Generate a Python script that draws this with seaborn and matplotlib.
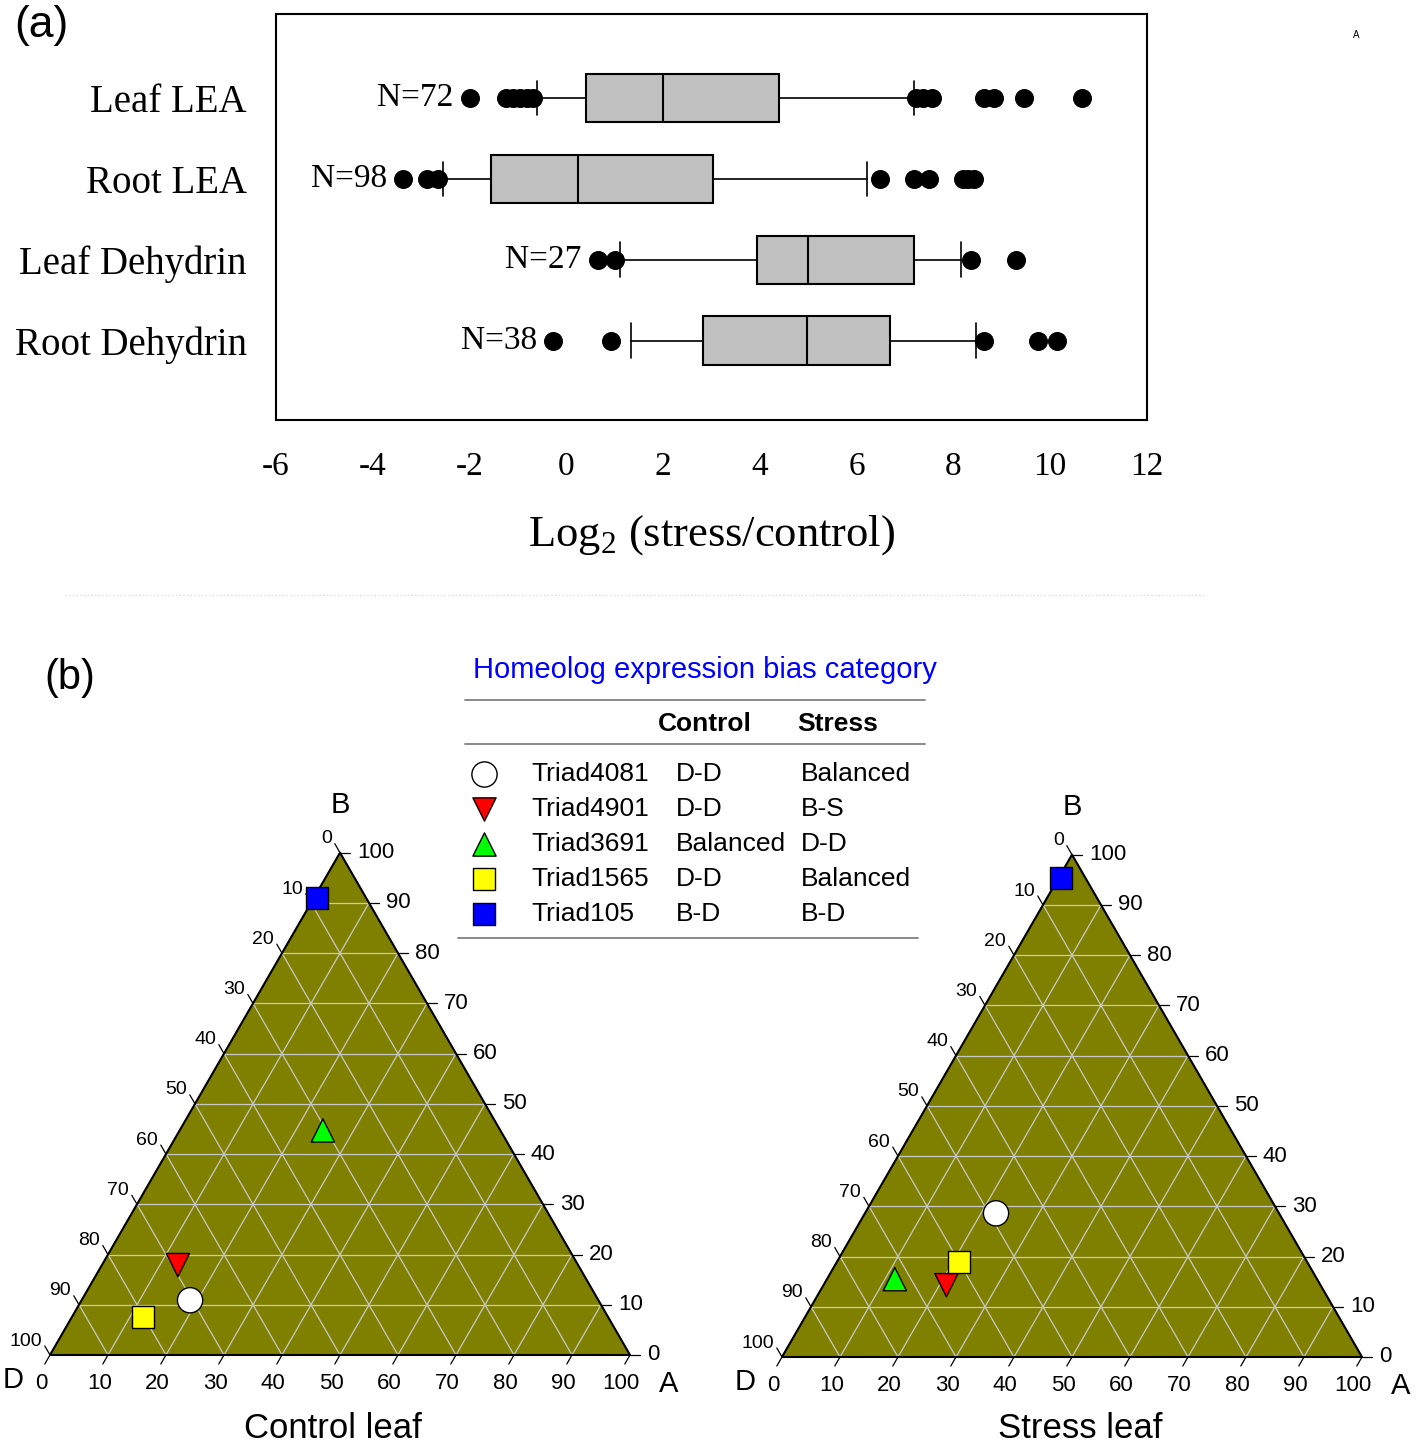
import numpy as np
import pandas as pd
import seaborn as sns
import matplotlib.pyplot as plt
from matplotlib.lines import Line2D

sns.set_style("white")
plt.rcParams['font.family'] = ['Liberation Sans', 'DejaVu Sans']
plt.rcParams['axes.unicode_minus'] = False
plt.rcParams['mathtext.fontset'] = 'custom'
plt.rcParams['mathtext.rm'] = 'Liberation Serif'
for key in ['text.color', 'axes.labelcolor', 'xtick.color', 'ytick.color']:
    plt.rcParams[key] = 'black'

# ---- panel (a) data: log2 (stress/control) box summaries
cats = ["Leaf LEA", "Root LEA", "Leaf Dehydrin", "Root Dehydrin"]
n_genes = [72, 98, 27, 38]
q1 = [0.40, -1.56, 3.94, 2.83]
med = [2.00, 0.24, 5.00, 4.98]
q3 = [4.39, 3.03, 7.18, 6.69]
whis_lo = [-0.60, -2.55, 1.10, 1.34]
whis_hi = [7.18, 6.21, 8.16, 8.46]
fliers = [
    [-2.0, -1.25, -1.1, -0.95, -0.82, -0.68, 7.22, 7.38, 7.55, 8.63, 8.83, 9.45, 10.65],
    [-3.38, -2.88, -2.66, 6.48, 7.18, 7.5, 8.2, 8.3, 8.42],
    [0.65, 1.0, 8.37, 9.29],
    [-0.27, 0.92, 8.63, 9.74, 10.14],
]

# ---- panel (b) data: homeolog expression (% A, % B; D = rest)
triads = ["Triad4081", "Triad4901", "Triad3691", "Triad1565", "Triad105"]
control_bias = ["D-D", "D-D", "Balanced", "D-D", "B-D"]
stress_bias = ["Balanced", "B-S", "D-D", "Balanced", "B-D"]
ctrl_A = [18.7, 13.1, 24.7, 12.3, 0.5]
ctrl_B = [10.9, 17.9, 44.7, 7.6, 91.0]
stress_A = [22.6, 21.2, 11.7, 21.0, 0.4]
stress_B = [28.6, 14.3, 15.5, 19.0, 95.4]

marker_map = dict(zip(triads, ["o", "v", "^", "s", "s"]))
color_map = dict(zip(triads, ["white", "#ff0000", "#00ff00", "#ffff00", "#0000ff"]))
size_map = dict(zip(triads, [330, 280, 280, 250, 250]))

W, H = 1418, 1446
fig = plt.figure(figsize=(W / 100, H / 100), dpi=100)


def rect(x0, y0, x1, y1):
    return [x0 / W, 1 - y1 / H, (x1 - x0) / W, (y1 - y0) / H]


serif = 'Liberation Serif'

# ================= (a) box plot =================
ax = fig.add_axes(rect(276, 14, 1147, 420))
stats = [dict(med=m, q1=a, q3=b, whislo=lo, whishi=hi, fliers=[])
         for m, a, b, lo, hi in zip(med, q1, q3, whis_lo, whis_hi)]
ax.bxp(stats, positions=range(len(cats)), widths=0.6, orientation='horizontal',
       patch_artist=True, showfliers=False, capwidths=0.43, manage_ticks=False,
       boxprops=dict(facecolor='#c0c0c0', edgecolor='black', linewidth=1.5),
       medianprops=dict(color='black', linewidth=1.5),
       whiskerprops=dict(color='black', linewidth=1.2),
       capprops=dict(color='black', linewidth=1.2))

fl = pd.DataFrame([(i, v) for i, vals in enumerate(fliers) for v in vals], columns=['pos', 'value'])
sns.scatterplot(data=fl, x='value', y='pos', color='black', edgecolor='black', s=160,
                zorder=3, ax=ax)
for i, vals in enumerate(fliers):
    ax.text(min(vals) - 0.33, i, f"N={n_genes[i]}", ha='right', va='center',
            fontsize=24, family=serif)

ax.set_xlim(-6, 12)
ax.set_ylim(3.98, -1.04)
ax.set_xticks(range(-6, 13, 2))
ax.set_xticklabels([str(t) for t in range(-6, 13, 2)], fontsize=24, family=serif)
ax.set_yticks(range(len(cats)))
ax.set_yticklabels(cats, fontsize=28, family=serif)
ax.tick_params(direction='out', length=9, width=1.2, color='black')
ax.tick_params(axis='x', pad=14)
ax.tick_params(axis='y', pad=12)
ax.set_xlabel(r'Log$_\mathrm{2}$ (stress/control)', fontsize=32, family=serif, labelpad=22)
ax.set_ylabel('')
for sp in ax.spines.values():
    sp.set_linewidth(1.5)
    sp.set_color('black')

fig.text(14 / W, 1 - 25 / H, "(a)", fontsize=32, ha='left', va='center')
fig.text(1356 / W, 1 - 35 / H, "A", fontsize=7, ha='center', va='center')
fig.add_artist(Line2D([65 / W, 1205 / W], [1 - 595 / H] * 2, color='#dcdcdc', ls=':', lw=1))
fig.text(44 / W, 1 - 678 / H, "(b)", fontsize=30, ha='left', va='center')

# ================= (b) ternary plots =================
h = np.sqrt(3) / 2
S = 5.8  # pixels per percent


def ternary(dx, dy, px0, px1, py0, py1, A, B):
    tax = fig.add_axes(rect(px0, py0, px1, py1))
    tax.set_xlim((px0 - dx) / S, (px1 - dx) / S)
    tax.set_ylim((dy - py1) / S, (dy - py0) / S)
    tax.axis('off')
    tax.patch.set_visible(False)
    tax.fill([0, 100, 50], [0, 0, 100 * h], color='#808000', zorder=0)
    for k in range(10, 100, 10):
        tax.plot([k / 2, 100 - k / 2], [k * h, k * h], color='#c8c8c8', lw=0.9, zorder=0.5)
        tax.plot([k, k + (100 - k) / 2], [0, (100 - k) * h], color='#c8c8c8', lw=0.9, zorder=0.5)
        tax.plot([100 - k, (100 - k) / 2], [0, (100 - k) * h], color='#c8c8c8', lw=0.9, zorder=0.5)
    tax.plot([0, 100, 50, 0], [0, 0, 100 * h, 0], color='black', lw=1.5, zorder=1)
    L = 1.8
    for k in range(0, 101, 10):
        # bottom: A
        tax.plot([k, k - 0.5 * L], [0, -h * L], color='black', lw=0.9)
        tax.text(k - 1.5, -4.9, str(k), fontsize=16, ha='center', va='center')
        # right: B
        bx, by = 100 - k / 2, k * h
        tax.plot([bx, bx + L], [by, by], color='black', lw=0.9)
        tax.text(bx + 2.9, by, str(k), fontsize=16, ha='left', va='center')
        # left: D
        lx, ly = (100 - k) / 2, (100 - k) * h
        tax.plot([lx, lx - 0.5 * L], [ly, ly + h * L], color='black', lw=0.9)
        tax.text(lx - 1.4, ly + 2.4, str(k), fontsize=14, ha='right', va='center')
    tax.text(50, 100 * h + 8.3, "B", fontsize=21, ha='center', va='center')
    tax.text(-6.3, -4.3, "D", fontsize=21, ha='center', va='center')
    tax.text(106.7, -5.0, "A", fontsize=21, ha='center', va='center')
    df = pd.DataFrame({'triad': triads,
                       'x': np.array(A) + np.array(B) / 2,
                       'y': np.array(B) * h})
    sns.scatterplot(data=df, x='x', y='y', hue='triad', style='triad', size='triad',
                    palette=color_map, markers=marker_map, sizes=size_map,
                    edgecolor='black', linewidth=1, legend=False, zorder=3, ax=tax)
    tax.set_xlabel('')
    tax.set_ylabel('')
    return tax


ternary(50, 1355, 0, 705, 780, 1446, ctrl_A, ctrl_B)
ternary(782, 1357, 715, 1418, 780, 1446, stress_A, stress_B)
fig.text(333 / W, 1 - 1428 / H, "Control leaf", fontsize=25, ha='center', va='center')
fig.text(1080 / W, 1 - 1428 / H, "Stress leaf", fontsize=25, ha='center', va='center')

# ---- legend table
fig.text(705 / W, 1 - 670 / H, "Homeolog expression bias category", fontsize=21,
         color='#0000ff', ha='center', va='center')
lax = fig.add_axes(rect(450, 690, 935, 950))
lax.set_xlim(450, 935)
lax.set_ylim(950, 690)
lax.axis('off')
lax.patch.set_visible(False)
lax.plot([465, 925], [700, 700], color='#808080', lw=1.3)
lax.plot([465, 925], [744, 744], color='#808080', lw=1.3)
lax.plot([458, 918], [938, 938], color='#808080', lw=1.3)
lax.text(705, 724, "Control", fontsize=19, fontweight='bold', ha='center', va='center')
lax.text(838, 724, "Stress", fontsize=19, fontweight='bold', ha='center', va='center')
rows = 774 + 35 * np.arange(len(triads))
for i, t in enumerate(triads):
    lax.scatter(484, rows[i], marker=marker_map[t], s=size_map[t], color=color_map[t],
                edgecolor='black', linewidth=1, zorder=3)
    lax.text(531, rows[i], t, fontsize=19, ha='left', va='center')
    lax.text(676, rows[i], control_bias[i], fontsize=19, ha='left', va='center')
    lax.text(801, rows[i], stress_bias[i], fontsize=19, ha='left', va='center')

fig.savefig("out.png", dpi=100)
